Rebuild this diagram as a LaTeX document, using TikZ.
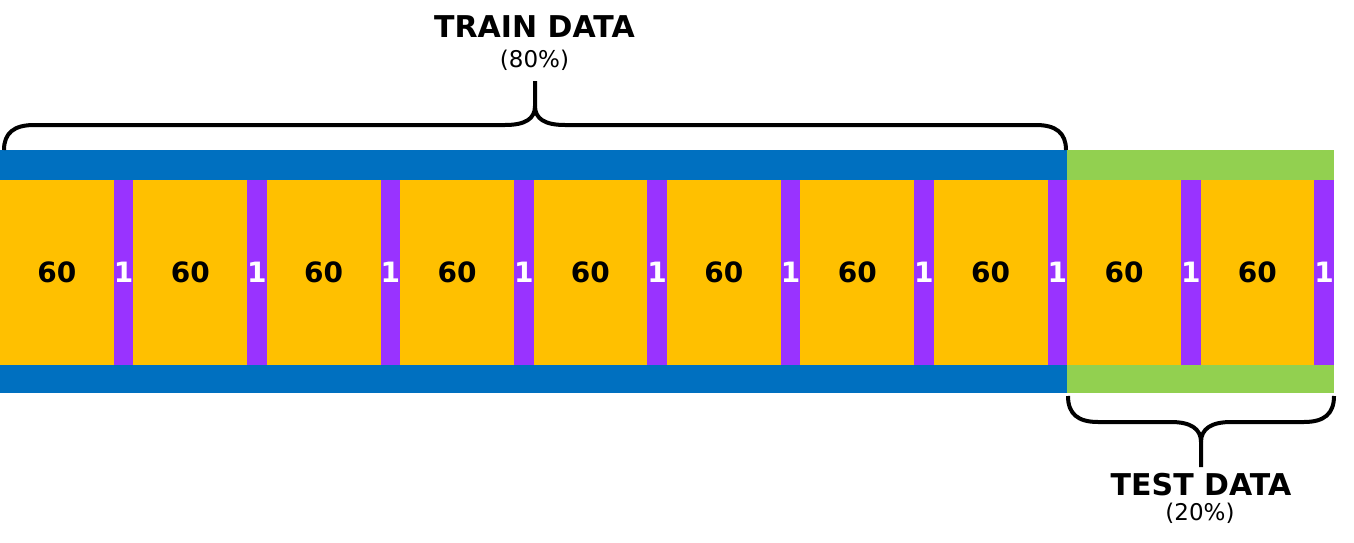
\documentclass[tikz,border=0pt]{standalone}
\usepackage{fontspec}
\setmainfont{DejaVu Sans}
\definecolor{bandblue}{HTML}{0070C0}
\definecolor{bandgreen}{HTML}{92D050}
\definecolor{blockyellow}{HTML}{FFC000}
\definecolor{sepviolet}{HTML}{9933FF}
\tikzset{
  band/.style={draw=none, inner sep=0pt, outer sep=0pt, anchor=north west, minimum height=243pt},
  datablock/.style={draw=none, fill=blockyellow, inner sep=0pt, outer sep=0pt, anchor=north west,
    minimum width=113.7pt, minimum height=185pt, font=\fontsize{28}{33}\selectfont\bfseries, text=black},
  sepblock/.style={draw=none, fill=sepviolet, inner sep=0pt, outer sep=0pt, anchor=north west,
    minimum width=19.7pt, minimum height=185pt, font=\fontsize{28}{33}\selectfont\bfseries, text=white},
  titletext/.style={inner sep=0pt, anchor=base, font=\fontsize{30}{35}\selectfont\bfseries},
  pcttext/.style={inner sep=0pt, anchor=base, font=\fontsize{23}{27}\selectfont},
  bracepath/.style={draw=black, line width=4pt, line cap=butt, line join=round}
}
\begin{document}
\begin{tikzpicture}[x=1pt,y=-1pt]
\useasboundingbox (0,0) rectangle (1354,543);
\node[band, fill=bandblue, minimum width=1067pt] (train) at (0,150) {};
\node[band, fill=bandgreen, minimum width=267pt] (test) at (1067,150) {};
\foreach \i in {0,...,9} {
  \node[datablock] (y\i) at ({133.4*\i},180) {60};
}
\foreach \i in {0,...,8} {
  \node[sepblock] (p\i) at ({133.4*\i+113.7},180) {1};
}
\node[sepblock, minimum width=17pt] (p9) at (1314.3,180) {1};
% titles
\node[titletext] (traintitle) at (534.5,37.5) {TRAIN DATA};
\node[pcttext] (trainpct) at (534.5,67) {(80\%)};
\node[titletext] (testtitle) at (1201,495) {TEST DATA};
\node[pcttext] (testpct) at (1200,520.5) {(20\%)};
% top brace
\coordinate (tbL) at (4,150);
\coordinate (tbR) at (1066,150);
\coordinate (tbTip) at (535,81);
\draw[bracepath] (tbL) .. controls (4,133) and (14,125) .. (34,125) -- (505,125)
  .. controls (525,125) and (535,119) .. (535,106) -- (tbTip);
\draw[bracepath] (535,106) .. controls (535,119) and (545,125) .. (565,125) -- (1036,125)
  .. controls (1056,125) and (1066,133) .. (tbR);
% bottom brace
\coordinate (bbL) at (1068,396);
\coordinate (bbR) at (1334,396);
\coordinate (bbTip) at (1201,467);
\draw[bracepath] (bbL) .. controls (1068,414) and (1078,422) .. (1098,422) -- (1171,422)
  .. controls (1191,422) and (1201,429) .. (1201,442) -- (bbTip);
\draw[bracepath] (1201,442) .. controls (1201,429) and (1211,422) .. (1231,422) -- (1304,422)
  .. controls (1324,422) and (1334,414) .. (bbR);
\end{tikzpicture}
\end{document}
